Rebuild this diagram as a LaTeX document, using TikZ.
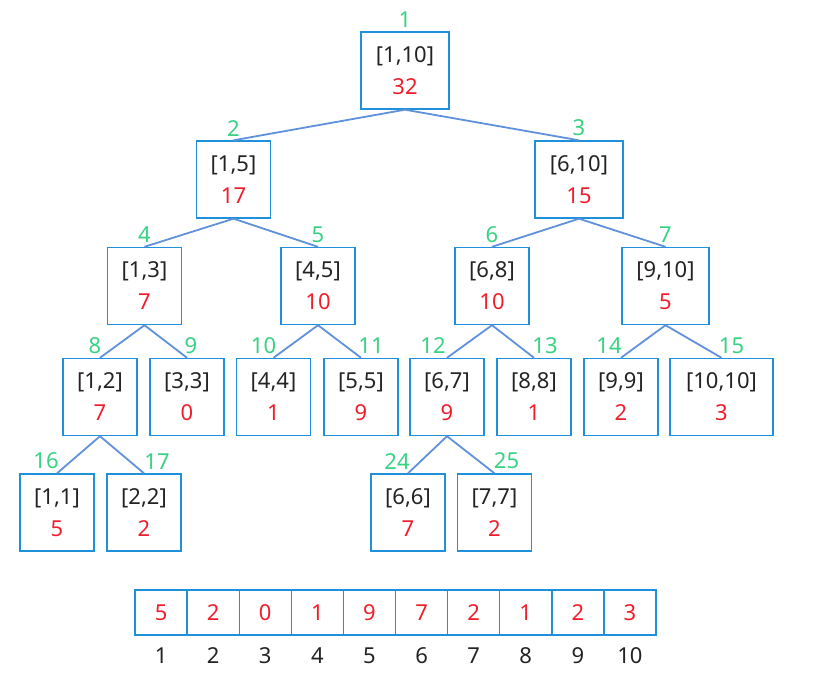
\documentclass[tikz,border=0pt]{standalone}
\usepackage{fontspec}
\setmainfont{Noto Sans}
\usepackage{xcolor}
\usetikzlibrary{positioning}

\definecolor{boxblue}{RGB}{30,144,220}
\definecolor{edgeblue}{RGB}{95,145,220}
\definecolor{idxgreen}{RGB}{55,210,130}
\definecolor{sumred}{RGB}{240,30,45}
\definecolor{txtgray}{RGB}{35,35,35}

\newcommand{\segtxt}[2]{#1\\\textcolor{sumred}{#2}}

\begin{document}
\begin{tikzpicture}[
    x=1pt, y=-1pt,
    seg/.style={draw=boxblue, line width=1.4pt, minimum height=77pt, minimum width=74pt,
                align=center, text=txtgray, font=\fontsize{22}{32}\selectfont, inner sep=0pt},
    idx/.style={text=idxgreen, font=\fontsize{22}{24}\selectfont, inner sep=1pt, label distance=3pt},
    tedge/.style={draw=edgeblue, line width=1.8pt},
    cell/.style={draw=boxblue, line width=1.4pt, minimum width=52.1pt, minimum height=45pt,
                 text=sumred, font=\fontsize{22}{24}\selectfont, inner sep=0pt},
    arrpos/.style={text=txtgray, font=\fontsize{22}{24}\selectfont, inner sep=0pt},
]
\useasboundingbox (0,0) rectangle (817,674);

% === Level 1 ===
\node[seg, minimum width=88pt, label={[idx]above:1}] (n1) at (405,70.5) {\segtxt{[1,10]}{32}};

% === Level 2 ===
\node[seg, label={[idx]above:2}] (n2) at (233.5,179.5) {\segtxt{[1,5]}{17}};
\node[seg, minimum width=88pt, label={[idx]above:3}] (n3) at (579,179.5) {\segtxt{[6,10]}{15}};

% === Level 3 ===
\node[seg, label={[idx]above:4}] (n4) at (144.5,286) {\segtxt{[1,3]}{7}};
\node[seg, label={[idx]above:5}] (n5) at (318,286) {\segtxt{[4,5]}{10}};
\node[seg, label={[idx]above:6}] (n6) at (492,286) {\segtxt{[6,8]}{10}};
\node[seg, minimum width=87pt, label={[idx]above:7}] (n7) at (665.5,286) {\segtxt{[9,10]}{5}};

% === Level 4 ===
\node[seg, label={[idx, xshift=-5pt]above:8}] (n8) at (100,397) {\segtxt{[1,2]}{7}};
\node[seg, label={[idx, xshift=4pt]above:9}] (n9) at (187,397) {\segtxt{[3,3]}{0}};
\node[seg, label={[idx, xshift=-10pt]above:10}] (n10) at (273.5,397) {\segtxt{[4,4]}{1}};
\node[seg, label={[idx, xshift=10pt]above:11}] (n11) at (361,397) {\segtxt{[5,5]}{9}};
\node[seg, label={[idx, xshift=-14pt]above:12}] (n12) at (447,397) {\segtxt{[6,7]}{9}};
\node[seg, label={[idx, xshift=11pt]above:13}] (n13) at (534,397) {\segtxt{[8,8]}{1}};
\node[seg, label={[idx, xshift=-12pt]above:14}] (n14) at (621,397) {\segtxt{[9,9]}{2}};
\node[seg, minimum width=103pt, label={[idx, xshift=10pt]above:15}] (n15) at (721.5,397) {\segtxt{[10,10]}{3}};

% === Level 5 ===
\node[seg, label={[idx, xshift=-11pt]above:16}] (n16) at (57,512.5) {\segtxt{[1,1]}{5}};
\node[seg, label={[idx, xshift=13pt]above:17}] (n17) at (144,512.5) {\segtxt{[2,2]}{2}};
\node[seg, label={[idx, xshift=-11pt]above:24}] (n24) at (408,512.5) {\segtxt{[6,6]}{7}};
\node[seg, label={[idx, xshift=12pt]above:25}] (n25) at (494.5,512.5) {\segtxt{[7,7]}{2}};

% === Tree edges ===
\foreach \p/\c in {1/2, 1/3, 2/4, 2/5, 3/6, 3/7, 4/8, 4/9, 5/10, 5/11,
                   6/12, 6/13, 7/14, 7/15, 8/16, 8/17, 12/24, 12/25}
    \draw[tedge] (n\p.south) -- (n\c.north);

% === Original array ===
\foreach \v [count=\i] in {5,2,0,1,9,7,2,1,2,3} {
    \node[cell] (c\i) at ({135+52.1*(\i-0.5)},612.5) {\v};
    \node[arrpos, below=12pt of c\i] (p\i) {\i};
}

\end{tikzpicture}
\end{document}
